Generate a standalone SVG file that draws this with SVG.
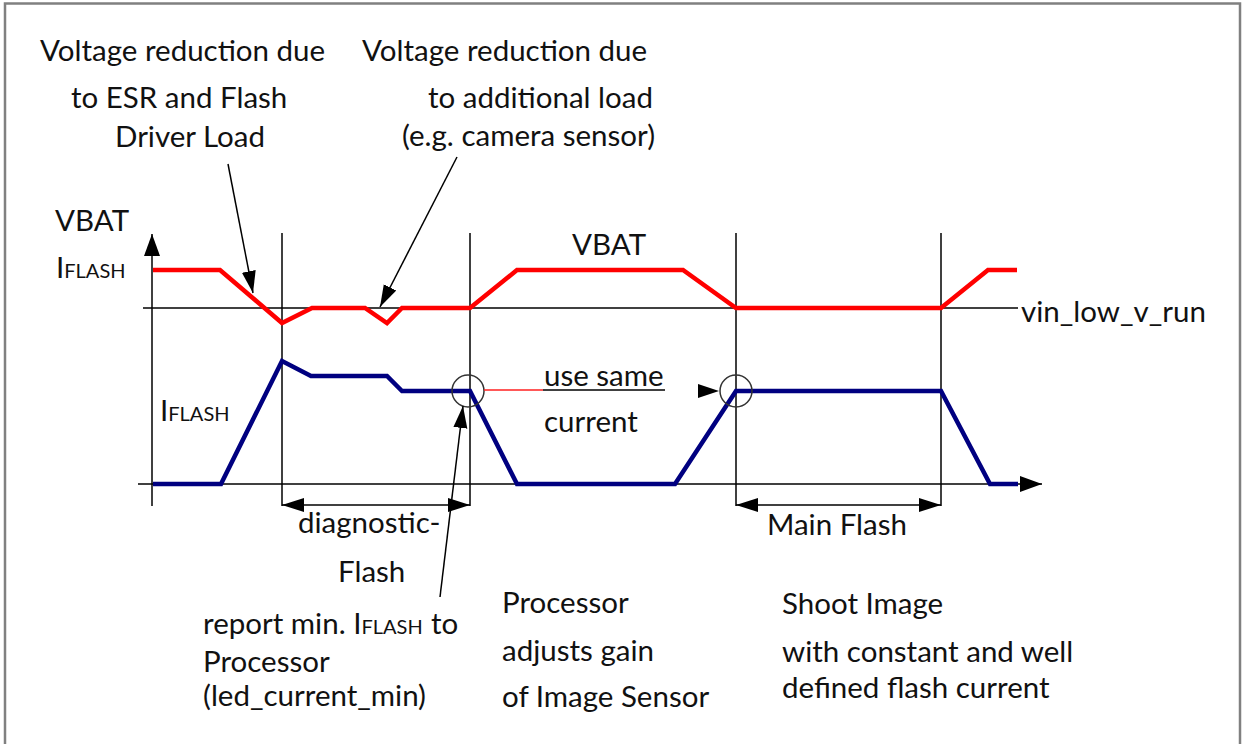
<svg xmlns="http://www.w3.org/2000/svg" width="1248" height="744" viewBox="0 0 1248 744">
  <style>
    .t { font-family: Lato, "Liberation Sans", sans-serif; font-size: 29.5px; fill: #111; }
    .sm { font-size: 20px; }
    .ln { stroke: #000; stroke-width: 1.5; fill: none; }
    .vbat { stroke: #ff0000; stroke-width: 4.5; fill: none; stroke-linejoin: miter; }
    .iflash { stroke: #000080; stroke-width: 4.5; fill: none; stroke-linejoin: miter; }
    .circ { stroke: #333; stroke-width: 1.5; fill: none; }
  </style>
  <defs>
    <marker id="ah" markerUnits="userSpaceOnUse" markerWidth="24" markerHeight="16" viewBox="0 -8 24 16" refX="22" refY="0" orient="auto-start-reverse">
      <path d="M0,-7 L22,0 L0,7 z" fill="#000"/>
    </marker>
    <marker id="axh" markerUnits="userSpaceOnUse" markerWidth="24" markerHeight="18" viewBox="0 -9 24 18" refX="22" refY="0" orient="auto">
      <path d="M0,-8 L22,0 L0,8 z" fill="#000"/>
    </marker>
  </defs>

  <rect x="5" y="3.5" width="1235" height="760" fill="#fff" stroke="#808080" stroke-width="2.5"/>

  <g id="axes">
    <line class="ln" x1="152" y1="506" x2="152" y2="234" marker-end="url(#axh)"/>
    <line class="ln" x1="138" y1="484" x2="1042" y2="484" marker-end="url(#axh)"/>
    <line class="ln" x1="143" y1="308" x2="1018" y2="308"/>
    <line class="ln" x1="282" y1="233" x2="282" y2="506"/>
    <line class="ln" x1="470" y1="233" x2="470" y2="506"/>
    <line class="ln" x1="736" y1="233" x2="736" y2="506"/>
    <line class="ln" x1="941" y1="233" x2="941" y2="506"/>
  </g>

  <g id="vbat-curve">
    <polyline class="vbat" points="153,270 220,270 282,323 312,308 365,308 387,323 402,308 470,308 517,270 683,270 736,308 941,308 988,270 1017,270"/>
  </g>
  <g id="iflash-curve">
    <polyline class="iflash" points="153,484 221,484 282,361 311,376 387,376 402,391 470,391 517,484 675,484 736,391 941,391 990,484 1018,484"/>
  </g>

  <g id="markers">
    <circle id="circle-min" class="circ" cx="468" cy="391" r="16"/>
    <circle id="circle-main" class="circ" cx="736" cy="391" r="16"/>
  </g>

  <g id="connectors">
    <line class="ln" x1="228" y1="164" x2="253" y2="293" marker-end="url(#ah)"/>
    <line class="ln" x1="457" y1="157" x2="380" y2="307" marker-end="url(#ah)"/>
    <line class="ln" x1="440" y1="597" x2="463" y2="406" marker-end="url(#ah)"/>
    <line x1="484" y1="390" x2="543" y2="390" stroke="#ff2020" stroke-width="1.5"/>
    <line x1="543" y1="390" x2="665" y2="390" stroke="#000" stroke-width="1.5"/>
    <path d="M698,384 L719,391 L698,398 z" fill="#000"/>
    <line class="ln" x1="282" y1="505" x2="470" y2="505" marker-start="url(#ah)" marker-end="url(#ah)"/>
    <line class="ln" x1="736" y1="505" x2="941" y2="505" marker-start="url(#ah)" marker-end="url(#ah)"/>
  </g>

  <g id="label-esr">
    <text class="t" x="40" y="61">Voltage reduction due</text>
    <text class="t" x="71" y="108">to ESR and Flash</text>
    <text class="t" x="115" y="147">Driver Load</text>
  </g>
  <g id="label-additional">
    <text class="t" x="362" y="61">Voltage reduction due</text>
    <text class="t" x="428" y="108">to additional load</text>
    <text class="t" x="402" y="146">(e.g. camera sensor)</text>
  </g>
  <g id="label-axis">
    <text class="t" x="55" y="231">VBAT</text>
    <text class="t" x="56" y="278">I<tspan class="sm">FLASH</tspan></text>
  </g>
  <g id="label-vbat">
    <text class="t" x="572" y="255">VBAT</text>
  </g>
  <g id="label-iflash">
    <text class="t" x="160" y="421">I<tspan class="sm">FLASH</tspan></text>
  </g>
  <g id="label-threshold">
    <text class="t" x="1021" y="322">vin_low_v_run</text>
  </g>
  <g id="label-same">
    <text class="t" x="544" y="386">use same</text>
    <text class="t" x="544" y="432">current</text>
  </g>
  <g id="label-diag">
    <text class="t" x="298" y="533">diagnostic-</text>
    <text class="t" x="338" y="582">Flash</text>
  </g>
  <g id="label-main">
    <text class="t" x="767" y="535">Main Flash</text>
  </g>
  <g id="label-report">
    <text class="t" x="203" y="634">report min. I<tspan class="sm">FLASH</tspan><tspan x="431">to</tspan></text>
    <text class="t" x="203" y="672">Processor</text>
    <text class="t" x="203" y="706">(led_current_min)</text>
  </g>
  <g id="label-processor">
    <text class="t" x="502" y="613">Processor</text>
    <text class="t" x="502" y="661">adjusts gain</text>
    <text class="t" x="502" y="707">of Image Sensor</text>
  </g>
  <g id="label-shoot">
    <text class="t" x="782" y="614">Shoot Image</text>
    <text class="t" x="782" y="662">with constant and well</text>
    <text class="t" x="782" y="698">defined flash current</text>
  </g>
</svg>
